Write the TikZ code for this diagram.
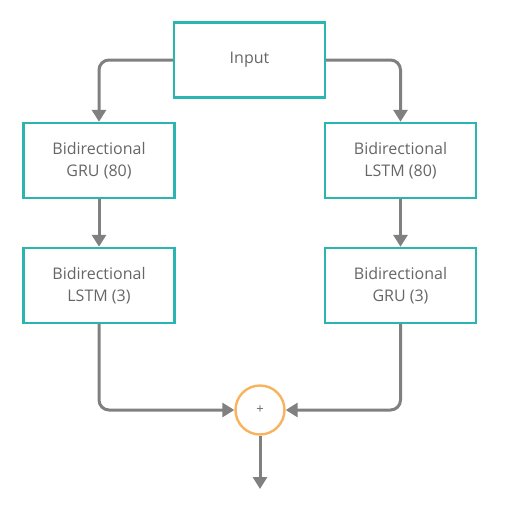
\documentclass[tikz,border=0pt]{standalone}
\usepackage{fontspec}
\setmainfont{Open Sans}
\usetikzlibrary{arrows.meta}
\definecolor{tealbox}{HTML}{2BB5B0}
\definecolor{sumring}{HTML}{F9B35E}
\definecolor{wire}{HTML}{808080}
\definecolor{label}{HTML}{666666}

\begin{document}
\begin{tikzpicture}[x=1pt, y=-1pt,
  layer/.style = {draw=tealbox, line width=2.4pt, minimum width=151pt, minimum height=75pt, align=center, text=label, font=\fontsize{16}{22}\selectfont},
  sum/.style = {draw=sumring, line width=2.4pt, circle, minimum size=49pt, inner sep=0pt, text=label, font=\fontsize{13}{15}\selectfont},
  flow/.style = {draw=wire, line width=3pt, rounded corners=10pt, -{Triangle[length=12pt, width=14pt]}}]
\useasboundingbox (0,0) rectangle (513,522);
\node[layer] (in) at (249.5,60) {Input};
\node[layer] (gru1) at (99,160.5) {Bidirectional\\GRU (80)};
\node[layer] (lstm1) at (400.5,160.5) {Bidirectional\\LSTM (80)};
\node[layer] (lstm2) at (99,285.5) {Bidirectional\\LSTM (3)};
\node[layer] (gru2) at (400.5,285.5) {Bidirectional\\GRU (3)};
\node[sum] (add) at (260,410) {+};
\coordinate (out) at (260,489);
\draw[flow] (in.west) -| (gru1.north);
\draw[flow] (in.east) -| (lstm1.north);
\draw[flow] (gru1) -- (lstm2);
\draw[flow] (lstm1) -- (gru2);
\draw[flow] (lstm2.south) |- (add.west);
\draw[flow] (gru2.south) |- (add.east);
\draw[flow] (add) -- (out);
\end{tikzpicture}
\end{document}
